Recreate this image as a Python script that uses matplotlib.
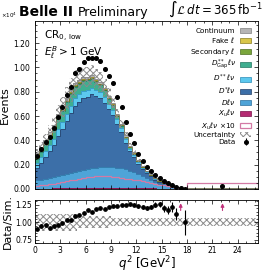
import numpy as np
import matplotlib
matplotlib.use("Agg")
import matplotlib.pyplot as plt
from matplotlib.patches import Patch
from matplotlib.ticker import MultipleLocator, AutoMinorLocator, FuncFormatter

plt.rcParams["font.family"] = "DejaVu Sans"
plt.rcParams["mathtext.fontset"] = "dejavusans"
plt.rcParams["hatch.linewidth"] = 0.7

# binning: 36 bins of 0.5 GeV^2, then one wide bin up to the end
edges = [0.5 * i for i in range(37)] + [26.4]

data = [2700, 3300, 3900, 4300, 5000, 5900, 6700, 7700, 8400, 9500, 9900, 10400,
        10800, 10750, 10800, 10560, 9900, 9300, 8700, 7600, 6700, 5500, 4500, 3760,
        2900, 2300, 1800, 1480, 1150, 880, 660, 470, 330, 190, 80, 30, 220]

xu = [25, 29, 33, 38, 43, 49, 56, 63, 70, 77, 84, 90, 96, 101, 105, 107, 107, 104,
      100, 95, 90, 85, 80, 75, 70, 63, 56, 49, 42, 35, 29, 23, 17, 12, 7, 3, 52]
dlnu = [675, 751, 827, 902, 977, 1051, 1124, 1197, 1270, 1343, 1416, 1480, 1544, 1599,
        1655, 1693, 1713, 1716, 1700, 1665, 1610, 1535, 1440, 1325, 1180, 1017, 844,
        671, 518, 385, 291, 207, 133, 83, 23, 12, 20]
dstlnu = [1040, 1380, 1760, 2170, 2560, 3250, 3720, 4330, 4920, 5430, 5670, 5870, 5920,
          6070, 5850, 5650, 5280, 4720, 4310, 3600, 2970, 2200, 1580, 1210, 800, 570,
          400, 320, 220, 170, 140, 100, 65, 35, 5, 5, 10]
dsslnu = [400, 430, 470, 510, 540, 570, 590, 600, 600, 600, 600, 590, 580, 570, 550, 530,
          500, 460, 420, 370, 320, 270, 220, 180, 140, 110, 90, 70, 60, 40, 30, 30, 20,
          15, 5, 5, 5]
dgap = [350, 420, 520, 620, 720, 820, 880, 920, 940, 930, 900, 860, 800, 740, 660, 580,
        500, 420, 350, 280, 220, 170, 130, 100, 80, 60, 50, 40, 30, 20, 20, 10, 10, 5,
        5, 0, 5]
secondary = [120, 120, 120, 110, 110, 100, 100, 90, 90, 80, 80, 70, 70, 60, 60, 50, 50,
             40, 40, 30, 30, 30, 20, 20, 20, 10, 10, 10, 10, 10, 10, 5, 5, 5, 0, 0, 3]
fake = [60, 60, 60, 60, 60, 60, 60, 50, 50, 50, 50, 50, 40, 40, 40, 40, 30, 30, 30, 30,
        20, 20, 20, 20, 10, 10, 10, 10, 10, 10, 10, 5, 5, 5, 0, 0, 3]
continuum = [300, 280, 270, 260, 250, 250, 240, 230, 220, 210, 200, 190, 180, 170, 160,
             150, 140, 130, 120, 110, 100, 90, 80, 70, 60, 50, 40, 40, 30, 30, 20, 20, 15,
             10, 5, 5, 10]
unc_rel = [0.12] * 10 + [0.09] * 8 + [0.06] * 19

labels = ["Continuum", r"Fake $\ell$", r"Secondary $\ell$", r"$D^{**}_{\rm Gap}\ell\nu$",
          r"$D^{**}\ell\nu$", r"$D^{*}\ell\nu$", r"$D\ell\nu$", r"$X_u\ell\nu$"]
colors = ["#b5b5b5", "#d8c64a", "#7aa63c", "#3fae90", "#5cc8ee", "#3c6fa8", "#4ea4d8", "#b52a72"]
edgecols = ["#808080", "#8a7d20", "#4d6e22", "#237560", "#2a8cb8", "#233f66", "#2a6e9c", "#7a1048"]
hatch_col = "#8a8a8a"

edges = np.array(edges)
centers = 0.5 * (edges[1:] + edges[:-1])
comps = [xu, dlnu, dstlnu, dsslnu, dgap, secondary, fake, continuum]
comp_cols = colors[::-1]
comp_edges = edgecols[::-1]

fig = plt.figure(figsize=(2.69, 2.73), dpi=100)
ax = fig.add_axes([0.130, 0.3077, 0.829, 0.615])
rax = fig.add_axes([0.130, 0.110, 0.829, 0.157])

bottom = np.zeros(len(centers))
for vals, c, ec in zip(comps, comp_cols, comp_edges):
    vals = np.array(vals, dtype=float)
    ax.stairs(bottom + vals, edges, baseline=bottom, fill=True, color=c, lw=0)
    ax.stairs(bottom + vals, edges, baseline=None, color=ec, lw=0.5)
    bottom = bottom + vals
total = bottom

unc = total * np.array(unc_rel)
ax.stairs(total + unc, edges, baseline=total - unc, fill=True, facecolor="none",
          edgecolor=hatch_col, hatch="xxxxx", lw=0)

# X_u x10
ax.stairs(np.array(xu) * 10, edges, baseline=0, color="#d37aa5", lw=0.9)

data = np.array(data, dtype=float)
err = np.sqrt(data)
eb = ax.errorbar(centers, data, yerr=err, fmt="o", ms=2.6, color="black", elinewidth=0.8,
                 capsize=0, zorder=5)

xmax = 26.4
ax.set_xlim(0, xmax)
ax.set_ylim(0, 13800)
ax.yaxis.set_major_locator(MultipleLocator(2000))
ax.yaxis.set_minor_locator(AutoMinorLocator(4))
ax.yaxis.set_major_formatter(FuncFormatter(lambda v, p: "%.2f" % (v / 1e4)))
ax.xaxis.set_major_locator(MultipleLocator(3))
ax.xaxis.set_minor_locator(MultipleLocator(1))
ax.tick_params(which="both", direction="in", top=True, right=True, labelsize=5.5)
ax.tick_params(which="major", length=3, width=0.5)
ax.tick_params(which="minor", length=1.5, width=0.5)
ax.tick_params(labelbottom=False)
ax.set_ylabel("Events", fontsize=8, labelpad=2)
ax.text(-0.083, 1.008, r"$\times10^4$", transform=ax.transAxes, fontsize=4, ha="right", va="bottom")

ax.text(-0.072, 1.012, "Belle II", transform=ax.transAxes, fontsize=10, fontweight="bold",
        ha="left", va="bottom")
ax.text(0.19, 1.012, "Preliminary", transform=ax.transAxes, fontsize=9, ha="left", va="bottom")
ax.text(1.02, 1.012, r"$\int\mathcal{L}\,dt=365\,\mathrm{fb}^{-1}$", transform=ax.transAxes,
        fontsize=8.5, ha="right", va="bottom")
ax.text(0.04, 0.955, r"CR$_{0,\,\mathrm{low}}$", transform=ax.transAxes, fontsize=7.5, va="top")
ax.text(0.04, 0.865, r"$E_\ell^B > 1$ GeV", transform=ax.transAxes, fontsize=7.5, va="top")

for s in ax.spines.values():
    s.set_linewidth(0.6)

handles = [Patch(facecolor=c, edgecolor=ec, lw=0.5) for c, ec in zip(colors, edgecols)]
handles.append(Patch(facecolor="white", edgecolor="#d37aa5", lw=0.9))
handles.append(Patch(facecolor="white", edgecolor=hatch_col, hatch="xxxxx", lw=0))
handles.append(eb)
leg_labels = labels + [r"$X_u\ell\nu$ $\times10$", "Uncertainty", "Data"]
leg = ax.legend(handles, leg_labels, loc="upper right", fontsize=5.2, frameon=False,
                markerfirst=False, handlelength=1.6, handleheight=0.7, labelspacing=0.12,
                bbox_to_anchor=(0.99, 0.985), borderaxespad=0.2, handletextpad=0.6)
for t in leg.get_texts():
    t.set_ha("right")

# ratio panel
ratio = data / total
rerr = err / total
ylo, yhi = 0.70, 1.32
rax.stairs(1 + np.array(unc_rel), edges, baseline=1 - np.array(unc_rel), fill=True,
           facecolor="none", edgecolor=hatch_col, hatch="xxxxx", lw=0)
inr = ratio <= yhi
rax.errorbar(centers[inr], ratio[inr], yerr=rerr[inr], fmt="o", ms=2.4, color="black",
             elinewidth=0.8, capsize=0, zorder=5)
for xc in centers[~inr]:
    rax.annotate("", xy=(xc, yhi - 0.005), xytext=(xc, 1.13),
                 arrowprops=dict(arrowstyle="-|>", color="#c0307a", lw=0.8,
                                 mutation_scale=5))
rax.set_xlim(0, xmax)
rax.set_ylim(ylo, yhi)
rax.set_yticks([0.75, 1.00, 1.25])
rax.yaxis.set_major_formatter(FuncFormatter(lambda v, p: "%.2f" % v))
rax.yaxis.set_minor_locator(MultipleLocator(0.05))
rax.xaxis.set_major_locator(MultipleLocator(3))
rax.xaxis.set_minor_locator(MultipleLocator(1))
rax.tick_params(which="both", direction="in", top=True, right=True, labelsize=5.5)
rax.tick_params(which="major", length=3, width=0.5, pad=2)
rax.tick_params(which="minor", length=1.5, width=0.5)
rax.set_ylabel("Data/Sim.", fontsize=8, labelpad=2)
rax.set_xlabel(r"$q^2$ [GeV$^2$]", fontsize=8.5, labelpad=0)
for s in rax.spines.values():
    s.set_linewidth(0.6)

fig.savefig("out.png", dpi=100)
